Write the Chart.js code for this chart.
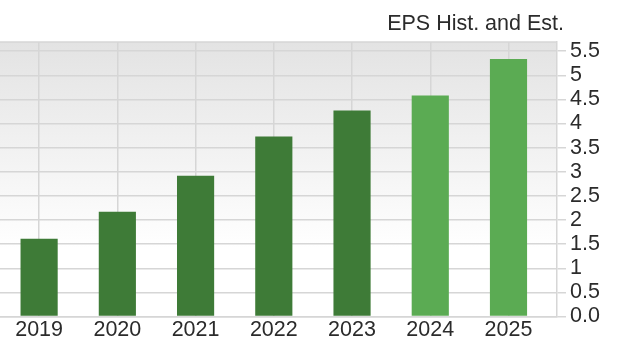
<!DOCTYPE html>
<html>
<head>
<meta charset="utf-8">
<script src="https://cdn.jsdelivr.net/npm/chart.js@4"></script>
<style>
  html, body { margin: 0; padding: 0; background: #fff; }
  #wrap { position: relative; width: 620px; height: 351px; }
</style>
</head>
<body>
<div id="wrap"><canvas id="epsChart"></canvas></div>
<script>
// data
const years = [2019, 2020, 2021, 2022, 2023, 2024, 2025];
const eps = [1.61, 2.17, 2.92, 3.73, 4.27, 4.58, 5.34];
const isEstimate = [false, false, false, false, false, true, true];
const chartTitle = "EPS Hist. and Est.";

const HIST = "#3e7b37";
const EST = "#5bab53";
const GRID = "#d6d6d6";
const TEXT = "#2b2b2b";
const FONT = "'Liberation Sans', Arial, Helvetica, sans-serif";
const FONT_SIZE = 21.5;

// gray gradient panel + top border + title
const panel = {
  id: "panel",
  beforeDraw(chart) {
    const { ctx, chartArea: a } = chart;
    const g = ctx.createLinearGradient(0, a.top, 0, a.bottom);
    g.addColorStop(0, "#e3e3e3");
    g.addColorStop(0.75, "#ffffff");
    ctx.save();
    ctx.fillStyle = g;
    ctx.fillRect(a.left, a.top, a.right - a.left, a.bottom - a.top);
    ctx.restore();
  },
  afterDraw(chart) {
    const { ctx, chartArea: a } = chart;
    ctx.save();
    ctx.strokeStyle = GRID;
    ctx.lineWidth = 1.5;
    ctx.beginPath();
    ctx.moveTo(a.left, a.top);
    ctx.lineTo(a.right, a.top);
    ctx.stroke();
    ctx.fillStyle = TEXT;
    ctx.font = FONT_SIZE + "px " + FONT;
    ctx.textAlign = "right";
    ctx.textBaseline = "alphabetic";
    ctx.fillText(chartTitle, a.right + 7, a.top - 12);
    ctx.restore();
  }
};

new Chart(document.getElementById("epsChart"), {
  type: "bar",
  data: {
    datasets: [{
      label: "EPS",
      data: years.map((y, i) => ({ x: y, y: eps[i] })),
      backgroundColor: isEstimate.map(e => e ? EST : HIST),
      categoryPercentage: 1,
      barPercentage: 0.475
    }]
  },
  options: {
    responsive: true,
    maintainAspectRatio: false,
    animation: false,
    layout: { padding: { top: 42, right: 0, bottom: 0, left: 0 } },
    plugins: {
      legend: { display: false },
      tooltip: { enabled: false }
    },
    scales: {
      x: {
        type: "linear",
        offset: false,
        min: 2018.5,
        max: 2025.62,
        afterFit: s => { s.height = 34.5; },
        grid: { color: GRID, lineWidth: 1.5, drawTicks: false, offset: false },
        border: { color: GRID, width: 1.5 },
        ticks: {
          stepSize: 1,
          includeBounds: false,
          autoSkip: false,
          maxRotation: 0,
          padding: 1,
          color: TEXT,
          font: { family: FONT, size: FONT_SIZE },
          callback: v => String(v)
        }
      },
      y: {
        position: "right",
        min: 0,
        max: 5.69,
        afterFit: s => { s.width = 63; },
        grid: { color: GRID, lineWidth: 1.5, tickLength: 9 },
        border: { color: GRID, width: 1.5 },
        ticks: {
          stepSize: 0.5,
          includeBounds: false,
          autoSkip: false,
          padding: 4,
          color: TEXT,
          font: { family: FONT, size: FONT_SIZE },
          callback: v => v === 0 ? "0.0" : String(v)
        }
      }
    }
  },
  plugins: [panel]
});
</script>
</body>
</html>
